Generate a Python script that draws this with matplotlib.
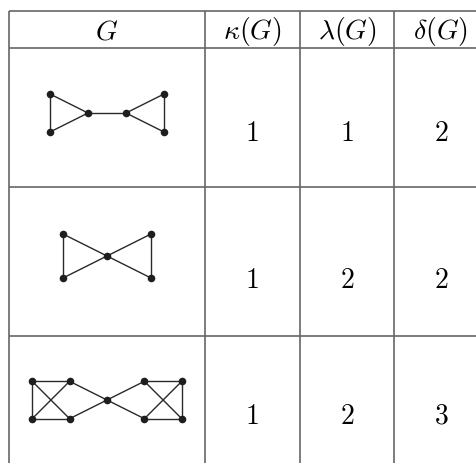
import numpy as np
import matplotlib.pyplot as plt

plt.rcParams['mathtext.fontset'] = 'cm'

headers = [r'$G$', r'$\kappa(G)$', r'$\lambda(G)$', r'$\delta(G)$']
kappa = [1, 1, 1]
lam = [1, 2, 2]
delta = [2, 2, 3]

# graph layouts (grid units) and edge lists
g1_nodes = [(-3, -1), (-3, 1), (-1, 0), (1, 0), (3, -1), (3, 1)]
g1_edges = [(0, 1), (0, 2), (1, 2), (2, 3), (3, 4), (3, 5), (4, 5)]
g2_nodes = [(-2, -1), (-2, 1), (0, 0), (2, -1), (2, 1)]
g2_edges = [(0, 1), (0, 2), (1, 2), (2, 3), (2, 4), (3, 4)]
g3_nodes = [(-4, -1), (-4, 1), (-2, -1), (-2, 1), (0, 0), (2, -1), (2, 1), (4, -1), (4, 1)]
g3_edges = [(0, 2), (0, 1), (1, 3), (0, 3), (1, 2), (2, 4), (3, 4),
            (4, 5), (4, 6), (5, 7), (6, 8), (7, 8), (5, 8), (6, 7)]
graphs = [(g1_nodes, g1_edges, 19.0), (g2_nodes, g2_edges, 22.0), (g3_nodes, g3_edges, 18.7)]

# table geometry in pixels
W, H = 476, 464
col_x = [9, 205, 300, 394]
col_mid = [107, 252, 347, 441]
row_y = [12, 49, 188, 337]
graph_cy = [114, 257, 401]
num_y = [133, 280, 416]

fig = plt.figure(figsize=(W / 100, H / 100), dpi=100)
ax = fig.add_axes([0, 0, 1, 1])
ax.set_xlim(0, W)
ax.set_ylim(H, 0)
ax.axis('off')

lc = '#666666'
for x in col_x:
    ax.plot([x, x], [row_y[0], H + 5], color=lc, lw=1.2, solid_capstyle='butt')
for y in row_y:
    ax.plot([col_x[0], W + 5], [y, y], color=lc, lw=1.2, solid_capstyle='butt')

for j, h in enumerate(headers):
    ax.text(col_mid[j], 31, h, ha='center', va='center', fontsize=20)

for i in range(3):
    for j, v in enumerate([kappa[i], lam[i], delta[i]]):
        ax.text(col_mid[j + 1], num_y[i], r'$%d$' % v, ha='center', va='center', fontsize=20)

    nodes, edges, s = graphs[i]
    pts = np.array(nodes, dtype=float) * s
    pts[:, 0] += col_mid[0]
    pts[:, 1] += graph_cy[i]
    for a, b in edges:
        ax.plot(pts[[a, b], 0], pts[[a, b], 1], color='#2a2a2a', lw=1.0, zorder=2)
    ax.scatter(pts[:, 0], pts[:, 1], s=30, color='#1e1e1e', zorder=3, linewidths=0)

fig.savefig('out.png', dpi=100)
